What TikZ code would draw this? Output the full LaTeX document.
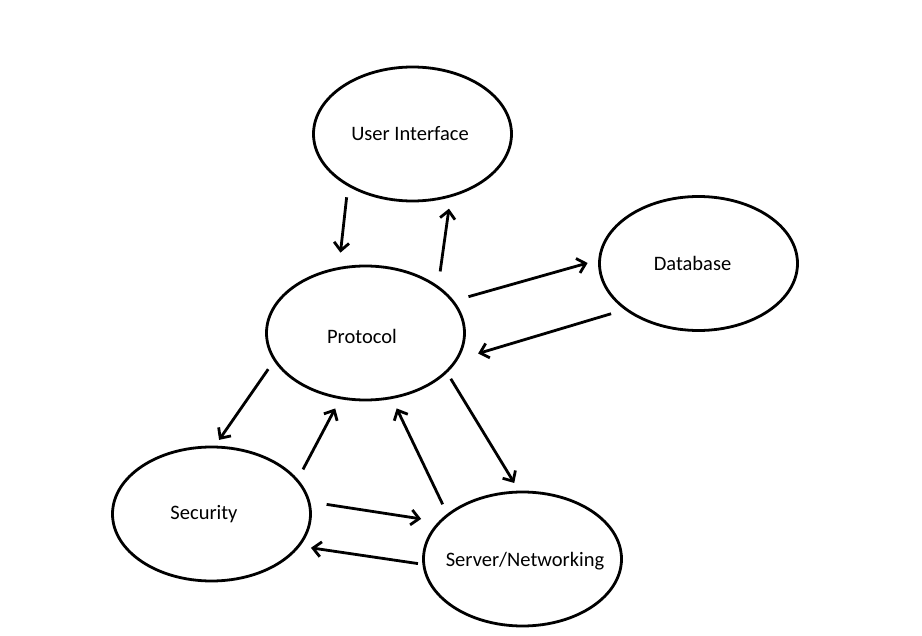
\documentclass[tikz,border=0pt]{standalone}
\usepackage{fontspec}
\setmainfont{Carlito}
\usetikzlibrary{arrows.meta, shapes.geometric}

\begin{document}
\begin{tikzpicture}[x=1pt, y=-1pt,
        main/.style = {draw, ellipse, line width=2.8pt, minimum width=198pt, minimum height=134pt, inner sep=0pt},
        every label/.style = {font=\fontsize{20.5}{24}\selectfont},
        arr/.style = {line width=2.8pt, -{Straight Barb[length=8pt, width=15pt]}}]
        \useasboundingbox (0,0) rectangle (922,636);
        \node[main, label={[xshift=-2.5pt]center:User Interface}] (ui) at (412.5,134) {};
        \node[main, label={[xshift=-6pt]center:Database}] (db) at (698.5,263.5) {};
        \node[main, label={[xshift=-3.5pt, yshift=-3pt]center:Protocol}] (proto) at (365.5,333) {};
        \node[main, label={[xshift=-7.5pt]center:Security}] (sec) at (211.5,514) {};
        \node[main, label={[xshift=2.5pt, yshift=-2pt]center:Server/Networking}] (net) at (522.5,559) {};
        \draw[arr, shorten <=11pt, shorten >=14.5pt] (ui.219.4) -- (proto.112.2);
        \draw[arr, shorten <=14.5pt, shorten >=11.5pt] (proto.33.2) -- (ui.301.8);
        \draw[arr, shorten <=15pt, shorten >=11pt] (proto.20.3) -- (db.178);
        \draw[arr, shorten <=14pt, shorten >=21pt] (db.212.9) -- (proto.344.2);
        \draw[arr, shorten <=10pt, shorten >=7pt] (proto.197.7) -- (sec.87);
        \draw[arr, shorten <=11pt, shorten >=10.5pt] (sec.22.9) -- (proto.249.4);
        \draw[arr, shorten <=10.5pt, shorten >=10.5pt] (net.149.4) -- (proto.292.7);
        \draw[arr, shorten <=7pt, shorten >=9pt] (proto.334.3) -- (net.93.2);
        \draw[arr, shorten <=16.5pt, shorten >=17.5pt] (sec.7.4) -- (net.156.8);
        \draw[arr, shorten <=4.5pt, shorten >=11pt] (net.183.3) -- (sec.340.3);
    \end{tikzpicture}
\end{document}
